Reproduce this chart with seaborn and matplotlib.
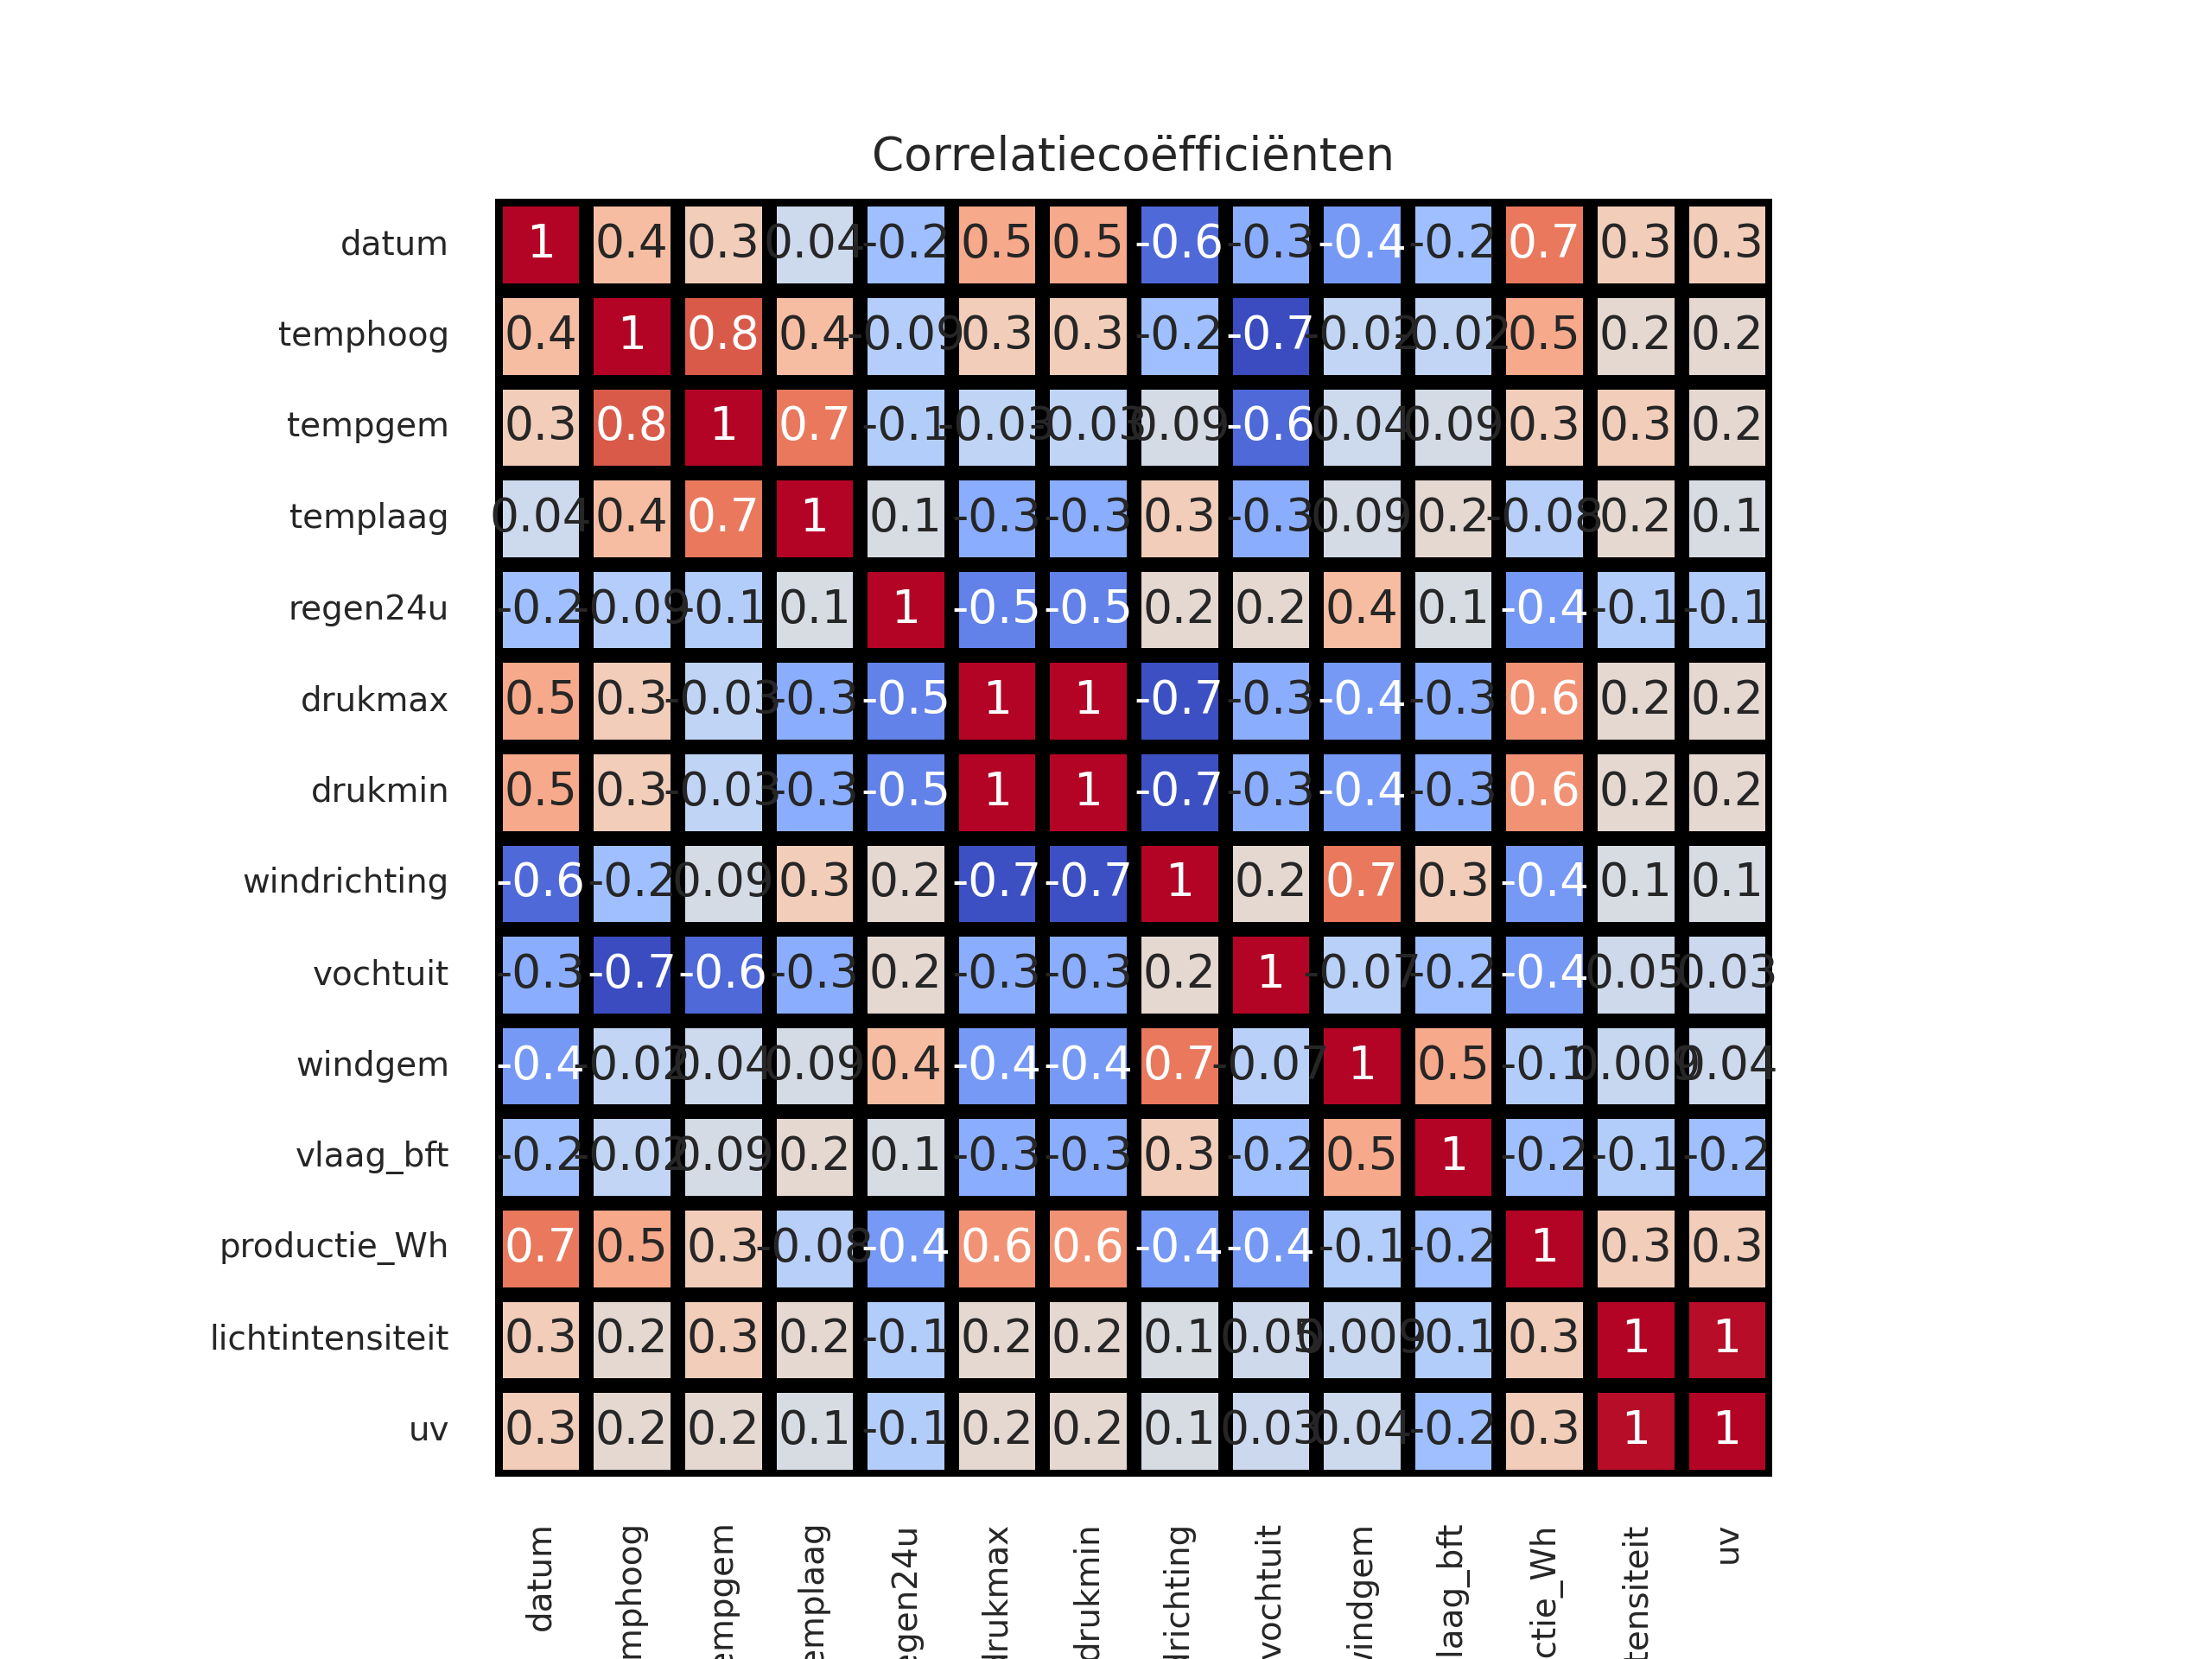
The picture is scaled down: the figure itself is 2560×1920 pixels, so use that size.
import seaborn as sns
from matplotlib import pyplot as plt
from pandas import DataFrame

labels = ["datum", "temphoog", "tempgem", "templaag", "regen24u", "drukmax", "drukmin",
          "windrichting", "vochtuit", "windgem", "vlaag_bft", "productie_Wh",
          "lichtintensiteit", "uv"]

# correlatie rijen
datum = [1, 0.4, 0.3, 0.04, -0.2, 0.5, 0.5, -0.6, -0.3, -0.4, -0.2, 0.7, 0.3, 0.3]
temphoog = [0.4, 1, 0.8, 0.4, -0.09, 0.3, 0.3, -0.2, -0.72, -0.02, -0.02, 0.5, 0.2, 0.2]
tempgem = [0.3, 0.8, 1, 0.7, -0.1, -0.03, -0.03, 0.09, -0.6, 0.04, 0.09, 0.3, 0.3, 0.2]
templaag = [0.04, 0.4, 0.7, 1, 0.1, -0.3, -0.3, 0.3, -0.3, 0.09, 0.2, -0.08, 0.2, 0.1]
regen24u = [-0.2, -0.09, -0.1, 0.1, 1, -0.5, -0.5, 0.2, 0.2, 0.4, 0.1, -0.4, -0.1, -0.1]
drukmax = [0.5, 0.3, -0.03, -0.3, -0.5, 1, 0.999, -0.7, -0.3, -0.4, -0.3, 0.6, 0.2, 0.2]
drukmin = [0.5, 0.3, -0.03, -0.3, -0.5, 0.999, 1, -0.7, -0.3, -0.4, -0.3, 0.6, 0.2, 0.2]
windrichting = [-0.6, -0.2, 0.09, 0.3, 0.2, -0.7, -0.7, 1, 0.2, 0.7, 0.3, -0.4, 0.1, 0.1]
vochtuit = [-0.3, -0.72, -0.6, -0.3, 0.2, -0.3, -0.3, 0.2, 1, -0.07, -0.2, -0.4, 0.05, 0.03]
windgem = [-0.4, -0.02, 0.04, 0.09, 0.4, -0.4, -0.4, 0.7, -0.07, 1, 0.5, -0.1, 0.009, 0.04]
vlaag_bft = [-0.2, -0.02, 0.09, 0.2, 0.1, -0.3, -0.3, 0.3, -0.2, 0.5, 1, -0.2, -0.1, -0.2]
productie_Wh = [0.7, 0.5, 0.3, -0.08, -0.4, 0.6, 0.6, -0.4, -0.4, -0.1, -0.2, 1, 0.3, 0.3]
lichtintensiteit = [0.3, 0.2, 0.3, 0.2, -0.1, 0.2, 0.2, 0.1, 0.05, 0.009, -0.1, 0.3, 1, 0.98]
uv = [0.3, 0.2, 0.2, 0.1, -0.1, 0.2, 0.2, 0.1, 0.03, 0.04, -0.2, 0.3, 0.98, 1]

rows = [datum, temphoog, tempgem, templaag, regen24u, drukmax, drukmin, windrichting,
        vochtuit, windgem, vlaag_bft, productie_Wh, lichtintensiteit, uv]
corr = DataFrame(rows, index=labels, columns=labels)

sns.set_theme(style="white", context="paper")
plt.rcParams["xtick.major.size"] = 6
plt.rcParams["ytick.major.size"] = 6
plt.rcParams["xtick.major.pad"] = 3.5
plt.rcParams["ytick.major.pad"] = 3.5

fig, ax = plt.subplots(figsize=(6.4, 4.8), dpi=400)
sns.heatmap(corr, annot=True, fmt=".1g", cmap="coolwarm", square=True, cbar=False,
            linewidths=3, linecolor="black", annot_kws={"size": 9.6}, ax=ax)
ax.set_title("Correlatiecoëfficiënten", fontsize=9.6)
ax.tick_params(axis="x", labelsize=7, rotation=90, bottom=False)
ax.tick_params(axis="y", labelsize=7, rotation=0, left=False)

plt.savefig("out.png", dpi=400)
